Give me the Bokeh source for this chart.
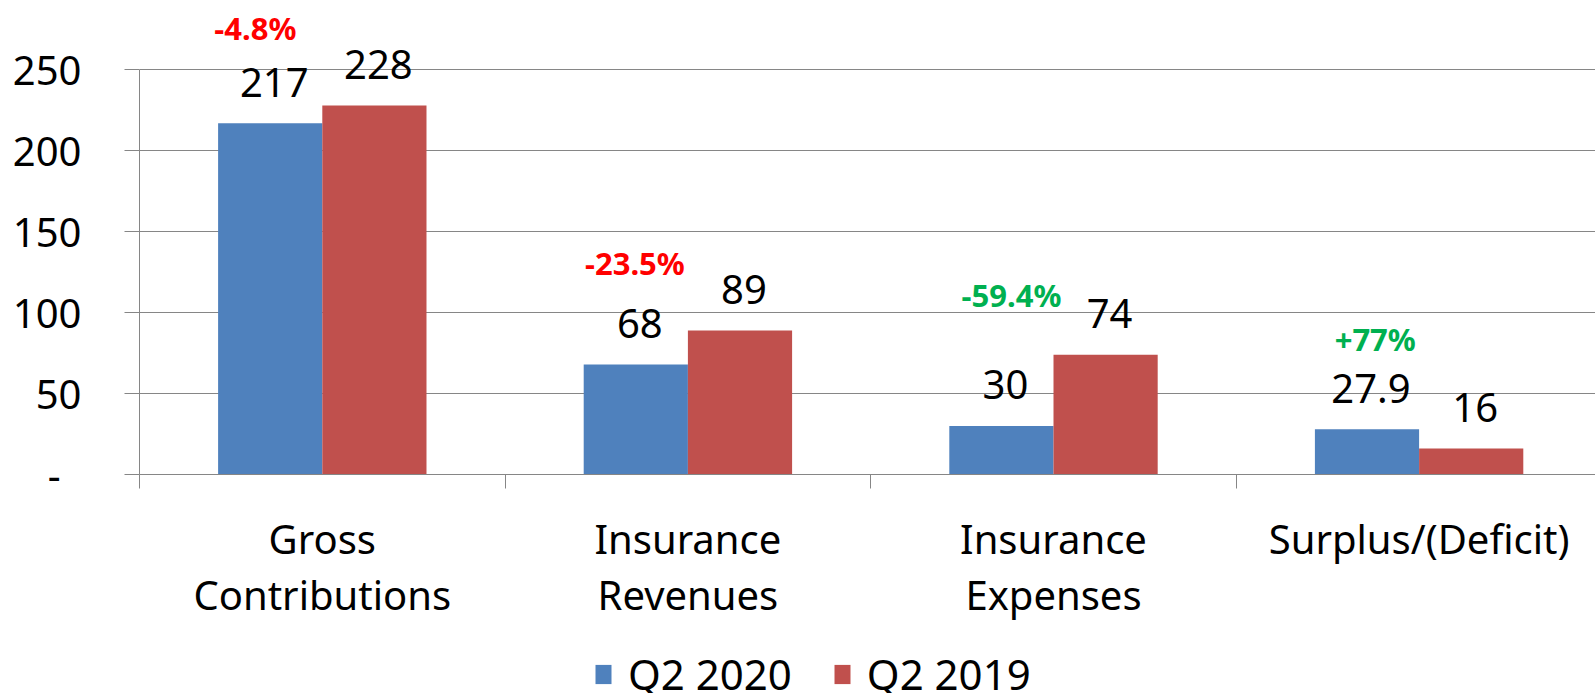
from bokeh.plotting import figure
from bokeh.models import ColumnDataSource, Range1d, FixedTicker, Legend, LegendItem
from bokeh.layouts import column
from bokeh.transform import dodge
from bokeh.core.properties import value
from bokeh.embed import file_html
from bokeh.resources import INLINE

# ---- data ----
categories = ["Gross\nContributions", "Insurance\nRevenues", "Insurance\nExpenses", "Surplus/(Deficit)"]
series_names = ["Q2 2020", "Q2 2019"]
q2_2020 = [217, 68, 30, 27.9]
q2_2019 = [228, 89, 74, 16]
labels_2020 = ["217", "68", "30", "27.9"]
labels_2019 = ["228", "89", "74", "16"]
pct_labels = ["-4.8%", "-23.5%", "-59.4%", "+77%"]
pct_colors = ["#FF0000", "#FF0000", "#00B050", "#00B050"]
y_ticks = [0, 50, 100, 150, 200, 250]
y_tick_labels = ["-\u00a0\u00a0", "50", "100", "150", "200", "250"]

# ---- annotation placement (layout only) ----
pct_dx = [-0.183, -0.145, -0.115, -0.12]
pct_y = [276, 131, 111, 84]

FONT = "Noto Sans"
GRID = "#868686"
BLUE = "#4F81BD"
RED = "#C0504D"
BAR_W = 0.285
W = 1595
H_MAIN = 630
H_LEG = 63

idx = list(range(len(categories)))
src = ColumnDataSource(dict(x=idx, a=q2_2020, b=q2_2019, la=labels_2020, lb=labels_2019))
pct_src = ColumnDataSource(dict(x=[i + d for i, d in zip(idx, pct_dx)], y=pct_y,
                                t=pct_labels, c=pct_colors))

p = figure(width=W, height=H_MAIN,
           x_range=Range1d(-0.5, 3.4825), y_range=Range1d(0, 292.9),
           output_backend="svg", toolbar_location=None,
           min_border_left=139, min_border_right=0, min_border_top=0,
           min_border_bottom=H_MAIN - 474)
p.outline_line_color = None
p.background_fill_color = "white"

p.vbar(x=dodge("x", -BAR_W / 2, range=p.x_range), top="a", width=BAR_W, source=src,
       fill_color=BLUE, line_color=None)
p.vbar(x=dodge("x", BAR_W / 2, range=p.x_range), top="b", width=BAR_W, source=src,
       fill_color=RED, line_color=None)

common = dict(text_font=value(FONT), text_font_size="40px", text_color="black",
              text_align="center", text_baseline="alphabetic", source=src,
              x_offset=4, y_offset=-41)
p.text(x=dodge("x", -BAR_W / 2, range=p.x_range), y="a", text="la", **common)
p.text(x=dodge("x", BAR_W / 2, range=p.x_range), y="b", text="lb", **common)

p.text(x="x", y="y", text="t", text_color="c", source=pct_src,
       text_font=value(FONT), text_font_size="31px", text_font_style="bold",
       text_align="center", text_baseline="middle")

# y axis
ya = p.yaxis[0]
ya.ticker = FixedTicker(ticks=y_ticks)
ya.major_label_overrides = dict(zip(y_ticks, y_tick_labels))
ya.bounds = (0, 250)
ya.axis_line_color = GRID
ya.major_tick_line_color = GRID
ya.major_tick_out = 15
ya.major_tick_in = 0
ya.minor_tick_line_color = None
ya.major_label_standoff = 43
ya.major_label_text_font = FONT
ya.major_label_text_font_size = "40px"
ya.major_label_text_color = "black"

# x axis
xa = p.xaxis[0]
xa.ticker = FixedTicker(ticks=idx, minor_ticks=[i - 0.5 for i in range(len(categories) + 1)])
xa.major_label_overrides = dict(zip(idx, categories))
xa.axis_line_color = GRID
xa.major_tick_line_color = None
xa.major_tick_out = 14
xa.major_tick_in = 0
xa.minor_tick_line_color = GRID
xa.minor_tick_out = 14
xa.minor_tick_in = 0
xa.major_label_standoff = 22
xa.major_label_text_font = FONT
xa.major_label_text_font_size = "40px"
xa.major_label_text_color = "black"
xa.major_label_text_line_height = 1.03

p.xgrid.visible = False
p.ygrid.ticker = FixedTicker(ticks=y_ticks[1:])
p.ygrid.grid_line_color = GRID
p.ygrid.grid_line_width = 1

# legend strip below the chart (its ranges keep the series bars out of view)
pl = figure(width=W, height=H_LEG, x_range=Range1d(-20, -19), y_range=Range1d(-20, -19),
            output_backend="svg", toolbar_location=None,
            x_axis_location=None, y_axis_location=None,
            min_border_left=0, min_border_right=0, min_border_top=0, min_border_bottom=0)
pl.outline_line_color = None
pl.grid.visible = False
leg_a = pl.vbar(x="x", top="a", width=BAR_W, source=src, fill_color=BLUE, line_color=None)
leg_b = pl.vbar(x="x", top="b", width=BAR_W, source=src, fill_color=RED, line_color=None)
legend = Legend(items=[LegendItem(label=series_names[0], renderers=[leg_a]),
                       LegendItem(label=series_names[1], renderers=[leg_b])],
                orientation="horizontal", location=(454, -9),
                padding=0, margin=0, spacing=40, label_standoff=15,
                glyph_width=20, glyph_height=24,
                label_text_font=FONT, label_text_font_size="42px", label_text_color="black",
                border_line_color=None, background_fill_alpha=0)
pl.add_layout(legend, "center")

layout = column(p, pl, spacing=0)
open("out.html", "w").write(file_html(layout, INLINE))
